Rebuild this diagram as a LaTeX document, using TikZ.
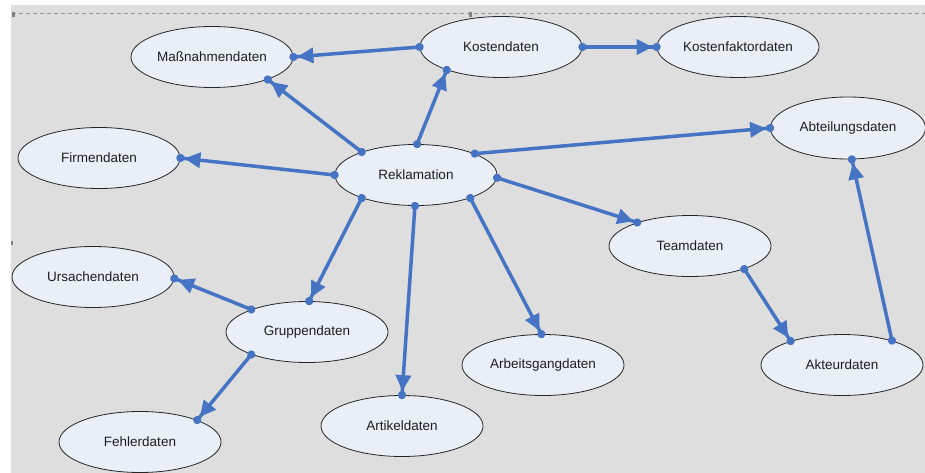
\documentclass[tikz,border=0pt]{standalone}
\usepackage{fontspec}
\setmainfont{Liberation Sans}
\usetikzlibrary{arrows.meta,shapes.geometric}
\definecolor{bggray}{RGB}{222,222,222}
\definecolor{ellfill}{RGB}{233,238,247}
\definecolor{linkblue}{RGB}{70,116,196}
\definecolor{txtcol}{RGB}{30,30,30}
\definecolor{dashcol}{RGB}{150,150,150}
\tikzset{
  entity/.style={ellipse, draw=black!85, line width=0.8pt, fill=ellfill,
    minimum width=162pt, minimum height=61pt, inner sep=0pt,
    font=\fontsize{13.5}{15}\selectfont, text=txtcol},
  conn/.style={draw=linkblue, line width=3.5pt,
    {Circle[length=8pt]}-{Triangle[length=16pt,width=15pt]Circle[length=8pt]},
    shorten <=-4pt, shorten >=-4pt},
}
\begin{document}
\begin{tikzpicture}[x=1pt,y=-1pt]
\useasboundingbox (0,0) rectangle (925,473);
\fill[white] (0,0) rectangle (925,473);
\fill[bggray] (11,5) rectangle (925,473);
\draw[dashcol, line width=1pt, dash pattern=on 4pt off 3pt] (12,14) -- (925,14);
\fill[gray] (12,12) rectangle (15,17);
\fill[gray] (469,12) rectangle (472,17);
\fill[gray] (11,241) rectangle (13,245);

\node[entity] (mass) at (212,57) {Maßnahmendaten};
\node[entity] (kost) at (501,47) {Kostendaten};
\node[entity] (kfak) at (738,47) {Kostenfaktordaten};
\node[entity, minimum width=155pt, minimum height=62pt] (abt) at (848,128) {Abteilungsdaten};
\node[entity] (firm) at (99,158) {Firmendaten};
\node[entity] (rek) at (416,175) {Reklamation};
\node[entity] (team) at (690,246) {Teamdaten};
\node[entity] (urs) at (93,277) {Ursachendaten};
\node[entity] (grup) at (307,332) {Gruppendaten};
\node[entity] (fehl) at (140,442) {Fehlerdaten};
\node[entity] (art) at (402,426) {Artikeldaten};
\node[entity] (arb) at (543,365) {Arbeitsgangdaten};
\node[entity] (akt) at (842,365) {Akteurdaten};

\draw[conn] (kost.180) -- (mass.0);
\draw[conn] (kost.0) -- (kfak.180);
\draw[conn] (rek.157.7) -- (mass.-22.3);
\draw[conn] (rek.88) -- (kost.203.8);
\draw[conn] (rek.180) -- (firm.0);
\draw[conn] (rek.20.7) -- (abt.180);
\draw[conn] (rek.-2) -- (team.156.6);
\draw[conn] (rek.203.8) -- (grup.86.7);
\draw[conn] (rek.268.4) -- (art.90);
\draw[conn] (rek.-23.8) -- (arb.93.3);
\draw[conn] (grup.158.8) -- (urs.-1.3);
\draw[conn] (grup.202.6) -- (fehl.21.8);
\draw[conn] (team.-23) -- (akt.155.8);
\draw[conn] (akt.26.1) -- (abt.-83.3);
\end{tikzpicture}
\end{document}
